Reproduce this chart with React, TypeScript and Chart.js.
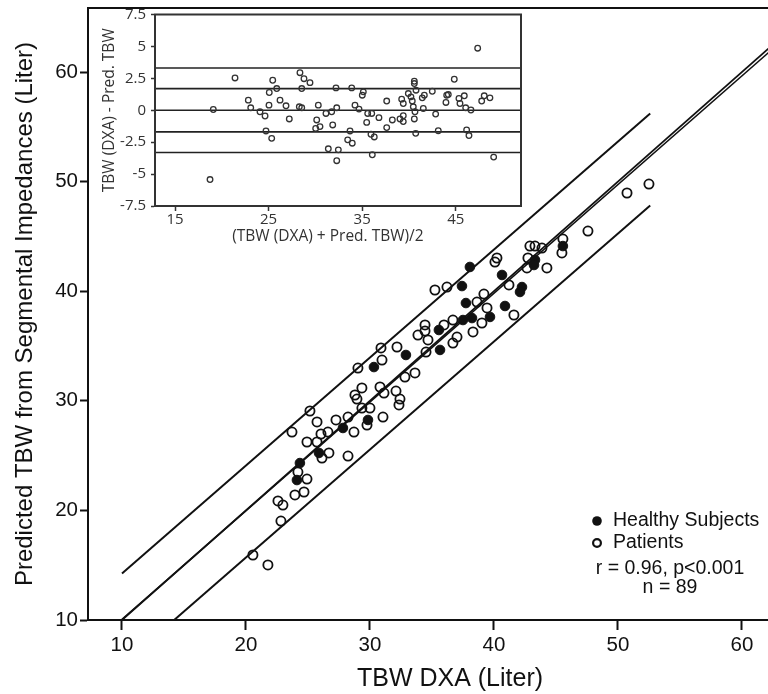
import React, { useEffect, useRef } from "react";
import { Chart, registerables } from "chart.js";

Chart.register(...registerables);

// ---------- main scatter data (TBW DXA vs predicted TBW, litres) ----------
const healthyDXA = [24.11, 24.35, 25.89, 27.82, 29.84, 38.06, 37.42, 37.74, 39.68, 37.5, 38.23, 35.56, 35.65, 32.9, 30.32, 45.56, 43.31, 43.23, 40.65, 42.26, 42.1, 40.89];
const healthyPred = [22.77, 24.32, 25.24, 27.52, 28.25, 42.21, 40.47, 38.92, 37.65, 37.37, 37.55, 36.46, 34.64, 34.18, 33.08, 44.12, 42.85, 42.39, 41.48, 40.38, 39.93, 38.65];

const patientDXA = [20.56, 21.77, 22.82, 22.58, 22.98, 23.95, 24.68, 24.92, 24.19, 26.13, 26.69, 28.23, 23.71, 24.92, 25.73, 26.05, 25.16, 25.73, 26.61, 27.26, 28.23, 28.71, 29.35, 30.0, 31.05, 32.42, 32.34, 29.76, 40.08, 35.24, 36.21, 39.19, 38.63, 39.44, 39.03, 38.31, 36.69, 35.97, 34.44, 34.44, 33.87, 34.68, 37.02, 36.69, 34.52, 32.18, 30.89, 30.97, 29.03, 32.82, 33.63, 30.81, 29.35, 28.79, 28.95, 31.13, 32.1, 52.5, 50.73, 47.58, 45.56, 45.48, 42.9, 43.31, 43.87, 42.74, 42.66, 44.27, 40.24, 41.21, 41.61];
const patientPred = [15.93, 15.02, 19.03, 20.86, 20.49, 21.41, 21.68, 22.86, 23.5, 24.78, 25.24, 24.96, 27.15, 26.24, 26.24, 26.97, 29.07, 28.07, 27.15, 28.25, 28.52, 27.15, 29.34, 29.34, 28.52, 30.16, 29.62, 27.79, 42.66, 40.11, 40.38, 39.74, 39.01, 38.47, 37.1, 36.28, 37.37, 36.92, 36.92, 36.37, 36.0, 35.55, 35.82, 35.27, 34.45, 34.91, 34.82, 33.72, 32.99, 32.17, 32.54, 31.26, 31.17, 30.53, 30.16, 30.71, 30.89, 49.78, 48.96, 45.49, 44.76, 43.49, 44.12, 44.12, 43.94, 43.03, 42.12, 42.12, 43.03, 40.57, 37.83];

// reference lines (end points in data units)
const identityX = [10, 65.6];
const identityY = [10, 65.6];
const regressionX = [10, 65.6];
const regressionY = [10.05, 65.2];
const upperBandX = [10, 52.6];
const upperBandY = [14.25, 56.21];
const lowerBandX = [14.21, 52.6];
const lowerBandY = [10, 47.81];

const mainXTicks = [10, 20, 30, 40, 50, 60];
const mainYTicks = [10, 20, 30, 40, 50, 60];

// ---------- inset Bland-Altman data ----------
const baMean = [21.41, 19.09, 18.74, 22.83, 23.09, 24.08, 24.62, 24.72, 25.33, 25.07, 25.44, 25.87, 25.04, 26.22, 26.86, 27.21, 28.35, 28.78, 29.42, 28.54, 28.28, 28.54, 30.31, 30.14, 30.03, 30.49, 31.13, 31.74, 31.85, 32.2, 32.28, 31.38, 32.45, 32.28, 33.88, 35.12, 35.01, 34.23, 34.66, 35.59, 36.02, 35.48, 36.79, 37.62, 38.22, 37.62, 33.7, 33.45, 33.94, 35.94, 36.29, 36.08, 39.04, 39.39, 39.39, 39.22, 39.39, 39.93, 40.21, 40.35, 40.46, 40.64, 40.57, 40.57, 40.57, 40.75, 40.72, 41.42, 41.64, 41.53, 42.49, 42.85, 43.13, 44.03, 43.95, 44.2, 44.84, 45.34, 45.45, 45.91, 46.06, 46.62, 46.16, 46.41, 47.34, 47.77, 48.04, 48.65, 49.05];
const baDiff = [2.53, 0.06, -5.43, 0.79, 0.19, -0.12, -0.45, -1.62, -2.2, 1.39, 2.35, 1.7, 0.4, 0.79, 0.35, -0.68, 2.94, 2.47, 2.16, 1.7, 0.27, 0.19, 0.4, -0.76, -1.42, -1.28, -0.25, -0.12, -1.15, 1.75, 0.19, -3.02, -3.1, -3.95, 1.75, 1.44, 1.18, 0.4, 0.09, -0.25, -0.25, -0.95, -0.58, 0.72, -0.76, -1.36, -1.62, -2.32, -2.58, -1.88, -2.09, -3.49, -0.68, -0.43, -0.89, 0.87, 0.53, 1.31, 1.05, 0.72, 0.27, -0.12, -0.68, 2.27, 2.09, 1.57, -1.81, 0.97, 1.18, 0.14, 1.49, -0.3, -1.6, 1.18, 0.61, 1.23, 2.43, 0.92, 0.53, 1.13, 0.19, 0.02, -1.54, -1.98, 4.86, 0.72, 1.13, 0.97, -3.67];
const baLevels = [3.31, 1.69, 0, -1.69, -3.31];
const insetXRange = [12.86, 51.97];
const insetXTicks = [15, 25, 35, 45];
const insetYTicks = [7.5, 5, 2.5, 0, -2.5, -5, -7.5];

const legendLabels = ["Healthy Subjects", "Patients"];
const statsLines = ["r = 0.96, p<0.001", "n = 89"];

const SANS = '"Liberation Sans", Arial, sans-serif';
const INSET_FONT = '"Open Sans", "DejaVu Sans", sans-serif';
const INK = "#111";

const toXY = (xs: number[], ys: number[]) => xs.map((x, i) => ({ x, y: ys[i] }));

const resetPadding = (s: any) => {
  s.paddingTop = 0;
  s.paddingBottom = 0;
  s.paddingLeft = 0;
  s.paddingRight = 0;
};

const lineDs = (xs: number[], ys: number[], width: number) => ({
  data: toXY(xs, ys),
  showLine: true,
  pointRadius: 0,
  borderColor: INK,
  borderWidth: width,
  fill: false,
});

const mainFrame = {
  id: "mainFrame",
  afterDraw(chart: any) {
    const { ctx, chartArea } = chart;
    ctx.save();
    ctx.strokeStyle = INK;
    ctx.lineWidth = 2;
    ctx.strokeRect(chartArea.left, chartArea.top, chartArea.right - chartArea.left, chartArea.bottom - chartArea.top);
    const x0 = chartArea.right - 215;
    const y0 = chartArea.bottom - 99;
    ctx.font = `19.5px ${SANS}`;
    ctx.fillStyle = INK;
    ctx.textBaseline = "middle";
    ctx.textAlign = "left";
    ctx.beginPath();
    ctx.arc(x0, y0, 4.8, 0, Math.PI * 2);
    ctx.fill();
    ctx.fillText(legendLabels[0], x0 + 16, y0);
    ctx.beginPath();
    ctx.arc(x0, y0 + 22, 3.9, 0, Math.PI * 2);
    ctx.lineWidth = 2.2;
    ctx.stroke();
    ctx.fillText(legendLabels[1], x0 + 16, y0 + 22);
    ctx.textAlign = "center";
    ctx.fillText(statsLines[0], x0 + 73, y0 + 48);
    ctx.fillText(statsLines[1], x0 + 73, y0 + 67);
    ctx.restore();
  },
};

const insetFrame = {
  id: "insetFrame",
  beforeDatasetsDraw(chart: any) {
    const { ctx, chartArea } = chart;
    ctx.save();
    ctx.fillStyle = "#fff";
    ctx.fillRect(chartArea.left, chartArea.top, chartArea.right - chartArea.left, chartArea.bottom - chartArea.top);
    ctx.restore();
  },
  afterDraw(chart: any) {
    const { ctx, chartArea } = chart;
    ctx.save();
    ctx.strokeStyle = "#333";
    ctx.lineWidth = 2;
    ctx.strokeRect(chartArea.left, chartArea.top, chartArea.right - chartArea.left, chartArea.bottom - chartArea.top);
    ctx.restore();
  },
};

export default function App() {
  const mainRef = useRef<HTMLCanvasElement>(null);
  const insetRef = useRef<HTMLCanvasElement>(null);

  useEffect(() => {
    const main = new Chart(mainRef.current as HTMLCanvasElement, {
      type: "scatter",
      data: {
        datasets: [
          {
            label: legendLabels[0],
            data: toXY(healthyDXA, healthyPred),
            pointRadius: 4.8,
            pointBackgroundColor: INK,
            pointBorderColor: INK,
            pointBorderWidth: 1,
          } as any,
          {
            label: legendLabels[1],
            data: toXY(patientDXA, patientPred),
            pointRadius: 4.6,
            pointBackgroundColor: "rgba(255,255,255,0)",
            pointBorderColor: INK,
            pointBorderWidth: 1.8,
          },
          lineDs(identityX, identityY, 1.8),
          lineDs(regressionX, regressionY, 1.6),
          lineDs(upperBandX, upperBandY, 2),
          lineDs(lowerBandX, lowerBandY, 2),
        ],
      },
      options: {
        responsive: false,
        animation: false,
        devicePixelRatio: 1,
        layout: { padding: { top: 8, right: 8, left: 0, bottom: 0 } },
        plugins: { legend: { display: false }, tooltip: { enabled: false } },
        scales: {
          x: {
            type: "linear",
            min: 7.26,
            max: 65.65,
            afterBuildTicks: (s: any) => {
              s.ticks = mainXTicks.map((v) => ({ value: v }));
            },
            afterFit: (s: any) => {
              s.height = 74;
              resetPadding(s);
            },
            ticks: { color: INK, font: { family: SANS, size: 20.5 }, padding: 3 },
            grid: { drawOnChartArea: false, drawTicks: true, tickLength: 10, tickWidth: 2, color: INK },
            border: { display: true, color: INK, width: 2 },
            title: {
              display: true,
              text: "TBW DXA (Liter)",
              color: INK,
              font: { family: SANS, size: 25 },
              padding: { top: 0, bottom: 0 },
            },
          },
          y: {
            type: "linear",
            min: 10,
            max: 65.84,
            afterBuildTicks: (s: any) => {
              s.ticks = mainYTicks.map((v) => ({ value: v }));
            },
            afterFit: (s: any) => {
              s.width = 88;
              resetPadding(s);
            },
            ticks: { color: INK, font: { family: SANS, size: 20.5 }, padding: 2 },
            grid: { drawOnChartArea: false, drawTicks: true, tickLength: 8, tickWidth: 2, color: INK },
            border: { display: true, color: INK, width: 2 },
            title: {
              display: true,
              text: "Predicted TBW from Segmental Impedances (Liter)",
              color: INK,
              font: { family: SANS, size: 24 },
              padding: { top: 11, bottom: 0 },
            },
          },
        },
      },
      plugins: [mainFrame],
    } as any);

    const inset = new Chart(insetRef.current as HTMLCanvasElement, {
      type: "scatter",
      data: {
        datasets: [
          {
            data: toXY(baMean, baDiff),
            pointRadius: 2.8,
            pointBackgroundColor: "rgba(255,255,255,0)",
            pointBorderColor: "#333",
            pointBorderWidth: 1.3,
          },
          ...baLevels.map((lv) => ({
            data: toXY(insetXRange, [lv, lv]),
            showLine: true,
            pointRadius: 0,
            borderColor: "#222",
            borderWidth: 1.6,
            fill: false,
          })),
        ],
      },
      options: {
        responsive: false,
        animation: false,
        devicePixelRatio: 1,
        layout: { padding: { top: 14.5, right: 9, left: 0, bottom: 0 } },
        plugins: { legend: { display: false }, tooltip: { enabled: false } },
        scales: {
          x: {
            type: "linear",
            min: insetXRange[0],
            max: insetXRange[1],
            afterBuildTicks: (s: any) => {
              s.ticks = insetXTicks.map((v) => ({ value: v }));
            },
            afterFit: (s: any) => {
              s.height = 44;
              resetPadding(s);
            },
            ticks: { color: "#333", font: { family: INSET_FONT, size: 15 }, padding: 0 },
            grid: { drawOnChartArea: false, drawTicks: true, tickLength: 5, tickWidth: 1.5, color: "#333" },
            border: { display: true, color: "#333", width: 2 },
            title: {
              display: true,
              text: "(TBW (DXA) + Pred. TBW)/2     ",
              color: "#333",
              font: { family: INSET_FONT, size: 15.5 },
              padding: { top: 0, bottom: 4 },
            },
          },
          y: {
            type: "linear",
            min: -7.5,
            max: 7.5,
            afterBuildTicks: (s: any) => {
              s.ticks = insetYTicks.map((v) => ({ value: v }));
            },
            afterFit: (s: any) => {
              s.width = 65;
              resetPadding(s);
            },
            ticks: { color: "#333", font: { family: INSET_FONT, size: 15 }, padding: 5 },
            grid: { drawOnChartArea: false, drawTicks: true, tickLength: 4, tickWidth: 1.5, color: "#333" },
            border: { display: true, color: "#333", width: 2 },
            title: {
              display: true,
              text: "TBW (DXA) - Pred. TBW",
              color: "#333",
              font: { family: INSET_FONT, size: 15.5 },
              padding: { top: 10, bottom: 0 },
            },
          },
        },
      },
      plugins: [insetFrame],
    } as any);

    return () => {
      main.destroy();
      inset.destroy();
    };
  }, []);

  return (
    <div
      style={{
        position: "fixed",
        left: 0,
        top: 0,
        width: 768,
        height: 694,
        overflow: "hidden",
        background: "#fff",
      }}
    >
      <canvas
        ref={mainRef}
        width={820}
        height={694}
        style={{ position: "absolute", left: 0, top: 0, width: 820, height: 694 }}
      />
      <canvas
        ref={insetRef}
        width={440}
        height={250}
        style={{ position: "absolute", left: 90, top: 0, width: 440, height: 250 }}
      />
    </div>
  );
}
